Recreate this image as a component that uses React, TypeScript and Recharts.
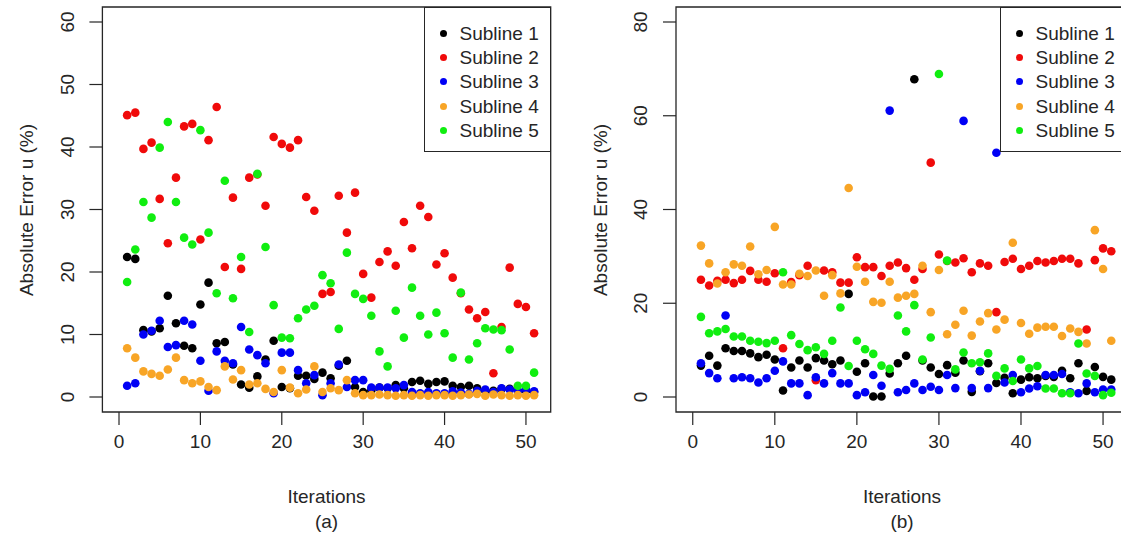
import React from "react";
import { ScatterChart, Scatter, XAxis, YAxis, ReferenceArea, Legend } from "recharts";

const iterations = [
	1, 2, 3, 4, 5, 6, 7, 8, 9, 10, 11, 12, 13, 14, 15, 16, 17, 18, 19, 20, 21, 22, 23, 24, 25, 26,
	27, 28, 29, 30, 31, 32, 33, 34, 35, 36, 37, 38, 39, 40, 41, 42, 43, 44, 45, 46, 47, 48, 49, 50, 51,
];

const sublineNames = ["Subline 1", "Subline 2", "Subline 3", "Subline 4", "Subline 5"];
const sublineColors = ["#000000", "#f00a0a", "#0000f5", "#f8a526", "#10ee10"];

const xTicks = [0, 10, 20, 30, 40, 50];
const aYTicks = [0, 10, 20, 30, 40, 50, 60];
const bYTicks = [0, 20, 40, 60, 80];

// panel (a)
const aSubline1 = [
	22.4, 22.1, 10.7, 10.5, 11.0, 16.2, 11.8, 8.2, 7.8, 14.8, 18.3, 8.6, 8.8, 5.2, 2.0, 1.5, 3.3, 6.0,
	9.0, 1.6, 1.4, 3.4, 3.4, 2.9, 3.9, 3.0, 5.0, 5.8, 1.6, 0.8, 1.1, 1.5, 1.4, 1.9, 1.4, 2.4, 2.6, 2.1,
	2.4, 2.5, 1.8, 1.6, 1.8, 1.4, 1.0, 1.0, 1.3, 1.3, 1.0, 1.0, 0.8,
];
const aSubline2 = [
	45.1, 45.5, 39.7, 40.7, 31.7, 24.6, 35.1, 43.3, 43.7, 25.2, 41.1, 46.4, 20.8, 31.9, 20.5, 35.1,
	35.6, 30.6, 41.6, 40.5, 39.9, 41.1, 32.0, 29.8, 16.5, 16.8, 32.2, 26.3, 32.7, 19.7, 15.9, 21.6,
	23.3, 21.0, 28.0, 23.8, 30.6, 28.8, 21.2, 23.0, 19.1, 16.6, 14.0, 12.6, 13.6, 3.8, 11.2, 20.7,
	14.9, 14.4, 10.2,
];
const aSubline3 = [
	1.8, 2.2, 10.0, 10.6, 12.2, 8.0, 8.3, 12.2, 11.6, 5.8, 1.0, 7.3, 5.8, 5.4, 11.2, 7.6, 6.7, 5.4, 0.6,
	7.1, 7.1, 4.3, 2.2, 3.5, 0.3, 2.2, 5.2, 1.6, 2.7, 2.7, 1.5, 1.5, 1.5, 1.4, 1.9, 0.8, 0.6, 0.8, 0.6,
	0.6, 0.9, 0.7, 0.5, 1.0, 1.2, 0.8, 1.4, 1.2, 1.0, 1.2, 0.9,
];
const aSubline4 = [
	7.8, 6.3, 4.1, 3.7, 3.4, 4.4, 6.3, 2.7, 2.2, 2.5, 1.6, 1.1, 4.9, 2.8, 4.3, 2.0, 2.2, 1.3, 0.8, 4.3,
	1.5, 0.6, 1.2, 4.9, 0.8, 1.4, 1.1, 2.7, 0.6, 0.3, 0.3, 0.4, 0.3, 0.2, 0.3, 0.2, 0.3, 0.2, 0.3, 0.3,
	0.2, 0.3, 0.4, 0.5, 0.2, 0.4, 0.3, 0.2, 0.3, 0.2, 0.3,
];
const aSubline5 = [
	18.4, 23.6, 31.2, 28.7, 39.9, 44.0, 31.2, 25.5, 24.4, 42.7, 26.3, 16.6, 34.6, 15.8, 22.4, 10.4,
	35.7, 24.0, 14.7, 9.5, 9.4, 12.6, 14.0, 14.6, 19.5, 18.2, 10.9, 23.1, 16.5, 15.7, 13.0, 7.3, 4.9,
	13.8, 9.5, 17.5, 13.0, 10.0, 13.5, 10.2, 6.3, 16.7, 6.0, 8.6, 11.0, 10.8, 10.7, 7.6, 1.8, 1.8, 3.9,
];

// panel (b)
const bSubline1 = [
	6.7, 8.8, 6.7, 10.4, 9.8, 9.8, 9.3, 8.5, 9.0, 8.0, 1.4, 6.3, 7.8, 6.3, 8.3, 7.8, 7.0, 7.8, 22.0,
	5.4, 7.2, 0.1, 0.1, 5.0, 7.2, 8.8, 67.8, 7.8, 6.3, 4.9, 6.8, 5.2, 7.8, 1.1, 5.5, 7.2, 3.0, 4.1, 0.8,
	3.7, 4.2, 4.0, 4.5, 4.3, 5.6, 4.0, 7.2, 1.3, 6.4, 4.3, 3.7,
];
const bSubline2 = [
	25.0, 23.8, 24.8, 25.0, 24.3, 25.0, 26.9, 25.0, 24.6, 26.4, 10.4, 24.5, 26.0, 28.0, 3.6, 27.0,
	26.6, 24.4, 24.4, 29.8, 27.7, 27.7, 25.8, 28.0, 28.7, 27.5, 25.0, 27.3, 50.0, 30.4, 29.0, 28.7,
	29.6, 26.6, 28.5, 28.0, 18.1, 28.8, 29.5, 27.3, 28.0, 29.0, 28.7, 29.0, 29.5, 29.5, 28.5, 14.4,
	29.2, 31.7, 31.1,
];
const bSubline3 = [
	7.2, 5.1, 4.0, 17.4, 4.0, 4.2, 4.0, 3.1, 4.0, 5.6, 7.6, 2.9, 2.9, 0.4, 4.2, 2.9, 5.1, 2.9, 2.9, 0.4,
	1.0, 4.7, 2.4, 61.1, 1.0, 1.5, 2.9, 1.5, 2.2, 1.5, 4.7, 1.9, 58.9, 1.9, 5.6, 1.9, 52.1, 3.1, 4.7,
	1.0, 1.8, 2.3, 4.7, 4.7, 4.9, 1.0, 0.8, 2.9, 1.0, 1.6, 1.6,
];
const bSubline4 = [
	32.3, 28.5, 24.2, 26.6, 28.3, 28.0, 32.1, 26.2, 27.1, 36.3, 24.0, 24.0, 26.3, 25.8, 27.0, 21.6,
	26.0, 22.1, 44.6, 27.8, 24.6, 20.3, 20.1, 24.6, 21.2, 21.6, 22.0, 28.0, 18.1, 27.1, 13.4, 15.4,
	18.4, 13.1, 16.1, 17.9, 14.4, 16.5, 32.9, 15.8, 13.5, 14.8, 15.0, 15.0, 13.0, 14.6, 13.9, 11.4,
	35.6, 27.3, 12.0,
];
const bSubline5 = [
	17.1, 13.6, 14.0, 14.5, 12.9, 12.9, 12.0, 11.8, 11.5, 12.0, 26.6, 13.2, 11.3, 10.0, 10.6, 9.2,
	12.0, 19.1, 6.6, 12.0, 10.2, 9.2, 6.7, 6.0, 17.4, 14.0, 19.6, 8.0, 12.7, 68.9, 29.1, 5.9, 9.5, 7.2,
	7.4, 9.3, 4.5, 6.1, 3.4, 8.0, 6.1, 6.6, 1.8, 1.8, 0.8, 0.8, 11.4, 5.0, 4.5, 0.4, 0.9,
];

const FONT = '"Liberation Sans", Arial, Helvetica, sans-serif';
const FONT_SIZE = 19;
const INK = "#262626";
const X_DOMAIN: [number, number] = [-2.04, 53.04];
const TICK = 13;

const toPoints = (values: number[]) => iterations.map((x, i) => ({ x, y: values[i] }));

const XTick = (props: any) => {
	const { x, y, payload } = props;
	return (
		<text x={x} y={y + 8} dy="0.71em" textAnchor="middle" fill={INK} fontSize={FONT_SIZE} fontFamily={FONT}>
			{payload.value}
		</text>
	);
};

const YTick = (props: any) => {
	const { x, y, payload } = props;
	const cx = x - 20.5;
	return (
		<text
			transform={`translate(${cx},${y}) rotate(-90)`}
			dy="0.36em"
			textAnchor="middle"
			fill={INK}
			fontSize={FONT_SIZE}
			fontFamily={FONT}
		>
			{payload.value}
		</text>
	);
};

const Dot = (color: string) => (props: any) => (
	<circle cx={props.cx} cy={props.cy} r={4.3} fill={color} />
);

const LegendBox = ({ width }: { width: number }) => (
	<div
		style={{
			width,
			height: 145,
			boxSizing: "border-box",
			border: `1.3px solid ${INK}`,
			background: "#fff",
			paddingTop: 13,
			fontFamily: FONT,
			fontSize: FONT_SIZE,
			color: INK,
		}}
	>
		{sublineNames.map((name, i) => (
			<div key={name} style={{ display: "flex", alignItems: "center", height: 24.3 }}>
				<span
					style={{
						width: 7,
						height: 7,
						borderRadius: "50%",
						background: sublineColors[i],
						marginLeft: 14.5,
						marginRight: 13,
						flex: "none",
					}}
				/>
				<span style={{ lineHeight: 1 }}>{name}</span>
			</div>
		))}
	</div>
);

type PanelProps = {
	left: number;
	series: number[][];
	yDomain: [number, number];
	yTicks: number[];
	axisWidth: number;
	rightMargin: number;
	legendLeft: number;
	legendWidth: number;
	caption: string;
};

const CHART_W = 560;
const CHART_H = 534;

function Panel({ left, series, yDomain, yTicks, axisWidth, rightMargin, legendLeft, legendWidth, caption }: PanelProps) {
	const plotLeft = axisWidth;
	const plotRight = CHART_W - rightMargin;
	const centerX = (plotLeft + plotRight) / 2;
	const textStyle: React.CSSProperties = {
		position: "absolute",
		fontFamily: FONT,
		fontSize: FONT_SIZE,
		color: INK,
		whiteSpace: "nowrap",
		transform: "translate(-50%, -50%)",
		lineHeight: 1,
	};
	return (
		<div style={{ position: "absolute", left, top: 0, width: CHART_W, height: CHART_H }}>
			<ScatterChart width={CHART_W} height={CHART_H} margin={{ top: 7, right: rightMargin, bottom: 0, left: 0 }}>
				<XAxis
					type="number"
					dataKey="x"
					domain={X_DOMAIN}
					ticks={xTicks}
					allowDataOverflow
					axisLine={false}
					tickLine={{ stroke: INK, strokeWidth: 1.2 }}
					tickSize={TICK}
					tick={<XTick />}
					height={122}
				/>
				<YAxis
					type="number"
					dataKey="y"
					domain={yDomain}
					ticks={yTicks}
					allowDataOverflow
					axisLine={false}
					tickLine={{ stroke: INK, strokeWidth: 1.2 }}
					tickSize={TICK}
					tick={<YTick />}
					width={axisWidth}
				/>
				<ReferenceArea
					x1={X_DOMAIN[0]}
					x2={X_DOMAIN[1]}
					y1={yDomain[0]}
					y2={yDomain[1]}
					fill="none"
					stroke={INK}
					strokeWidth={1.3}
					ifOverflow="visible"
				/>
				{series.map((values, i) => (
					<Scatter
						key={sublineNames[i]}
						name={sublineNames[i]}
						data={toPoints(values)}
						fill={sublineColors[i]}
						shape={Dot(sublineColors[i])}
						isAnimationActive={false}
					/>
				))}
				<Legend
					layout="horizontal"
					verticalAlign="middle"
					content={() => <LegendBox width={legendWidth} />}
					wrapperStyle={{ position: "absolute", left: legendLeft, top: 7, width: legendWidth, height: 145 }}
				/>
			</ScatterChart>
			<div style={{ ...textStyle, left: plotLeft - 76, top: 209.5, transform: "translate(-50%, -50%) rotate(-90deg)" }}>
				Absolute Error u (%)
			</div>
			<div style={{ ...textStyle, left: centerX, top: 496 }}>Iterations</div>
			<div style={{ ...textStyle, left: centerX, top: 521 }}>{caption}</div>
		</div>
	);
}

export default function App() {
	return (
		<div
			style={{
				position: "absolute",
				left: 0,
				top: 0,
				width: 1121,
				height: 534,
				overflow: "hidden",
				background: "#fff",
			}}
		>
			<Panel
				left={0}
				series={[aSubline1, aSubline2, aSubline3, aSubline4, aSubline5]}
				yDomain={[-2.4, 62.4]}
				yTicks={aYTicks}
				axisWidth={102.4}
				rightMargin={9.3}
				legendLeft={424}
				legendWidth={127}
				caption="(a)"
			/>
			<Panel
				left={570}
				series={[bSubline1, bSubline2, bSubline3, bSubline4, bSubline5]}
				yDomain={[-3.2, 83.2]}
				yTicks={bYTicks}
				axisWidth={106}
				rightMargin={2}
				legendLeft={430}
				legendWidth={128}
				caption="(b)"
			/>
		</div>
	);
}
